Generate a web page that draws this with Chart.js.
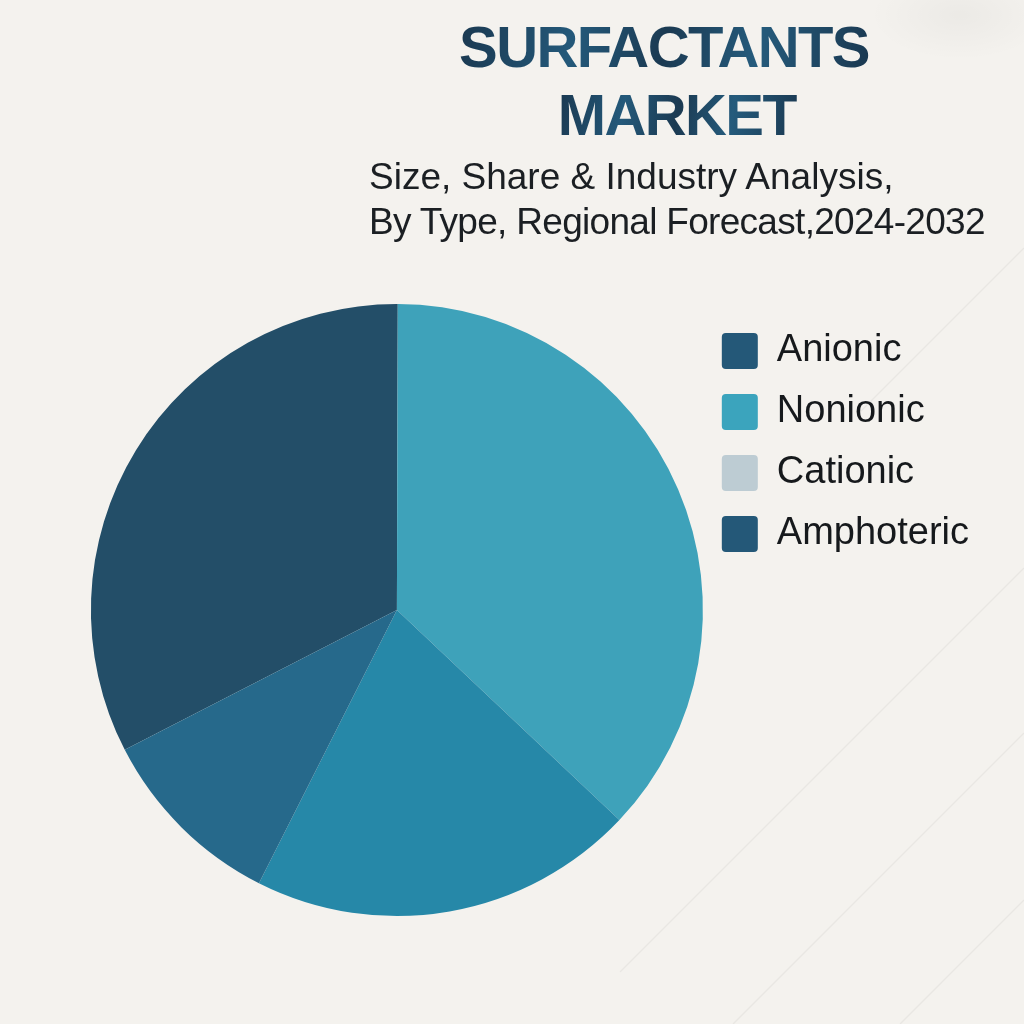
<!DOCTYPE html>
<html>
<head>
<meta charset="utf-8">
<script src="https://cdn.jsdelivr.net/npm/chart.js@4.4.0/dist/chart.umd.min.js"></script>
<style>
  body { margin: 0; background: #f4f2ee; }
  #wrap {
    position: relative; width: 1024px; height: 1024px; overflow: hidden;
    background: radial-gradient(ellipse 90px 45px at 960px 15px, rgba(0,0,0,0.035), rgba(0,0,0,0) 100%), #f4f2ee;
  }
  #chart { position: absolute; left: 0; top: 0; }
  .title {
    position: absolute; transform: translateX(-50%); white-space: nowrap;
    font-family: "Liberation Sans", Arial, sans-serif; font-weight: bold;
    font-size: 58px; line-height: 58px; letter-spacing: -1.6px;
    color: #1d3d55;
    background: linear-gradient(100deg, #1a3850 0%, #24597a 28%, #1b3a52 50%, #255b7c 72%, #1a3850 100%);
    -webkit-background-clip: text; background-clip: text; -webkit-text-fill-color: transparent;
  }
  #sub {
    position: absolute; left: 369px; top: 154px; white-space: nowrap;
    font-family: "Liberation Sans", Arial, sans-serif;
    font-size: 37px; line-height: 45px; color: #1b1f23;
  }
  #sub span { letter-spacing: -0.7px; }
</style>
</head>
<body>
<div id="wrap">
  <canvas id="chart" width="1024" height="1024"></canvas>
  <div class="title" style="left:664px; top:18px;">SURFACTANTS</div>
  <div class="title" style="left:677px; top:86px;">MARKET</div>
  <div id="sub">Size, Share &amp; Industry Analysis,<br><span>By Type, Regional Forecast,2024-2032</span></div>
</div>
<script>
// surfactant types, share of market (%)
typeLabels = ['Anionic', 'Nonionic', 'Cationic', 'Amphoteric']
shareValues = [32.6, 37.0, 20.4, 10.0]
sliceColors = ['#234e68', '#3ea2ba', '#2688a8', '#26698b']
legendColors = ['#245878', '#3ba4bd', '#bdccd3', '#245878']

// faint diagonal strokes on the paper background
var backdrop = {
    id: 'backdrop',
    beforeDraw: (chart) => {
        const c = chart.ctx;
        c.save();
        c.strokeStyle = 'rgba(0,0,0,0.045)';
        c.lineWidth = 1.5;
        [[860, 412, 1024, 248], [620, 972, 1024, 568], [733, 1024, 1024, 733], [900, 1024, 1024, 900]].forEach(l => {
            c.beginPath();
            c.moveTo(l[0], l[1]);
            c.lineTo(l[2], l[3]);
            c.stroke();
        });
        c.restore();
    }
}

var pieData = {
    labels: typeLabels,
    datasets: [
        {
            data: shareValues,
            backgroundColor: sliceColors,
            borderWidth: 0,
            clip: false,
        }
    ]
}

var pieOptions = {
    responsive: false,
    animation: false,
    rotation: 242.8,
    radius: 306,
    layout: {
        padding: { left: 95, right: 45, top: 309, bottom: 113 }
    },
    plugins: {
        tooltip: { enabled: false },
        legend: {
            position: 'right',
            align: 'start',
            labels: {
                boxWidth: 36,
                boxHeight: 36,
                padding: 23,
                useBorderRadius: true,
                borderRadius: 4,
                color: '#16191c',
                font: { family: '"Liberation Sans", Arial, sans-serif', size: 38 },
                generateLabels: (chart) => typeLabels.map((t, i) => ({
                    text: t,
                    fillStyle: legendColors[i],
                    strokeStyle: legendColors[i],
                    lineWidth: 0,
                    borderRadius: 4,
                    fontColor: '#16191c',
                    index: i,
                    hidden: false,
                }))
            }
        }
    }
}

var ctx = document.getElementById('chart').getContext('2d');
var myChart = new Chart(ctx, {
    type: 'pie',
    data: pieData,
    options: pieOptions,
    plugins: [backdrop]
})
</script>
</body>
</html>
